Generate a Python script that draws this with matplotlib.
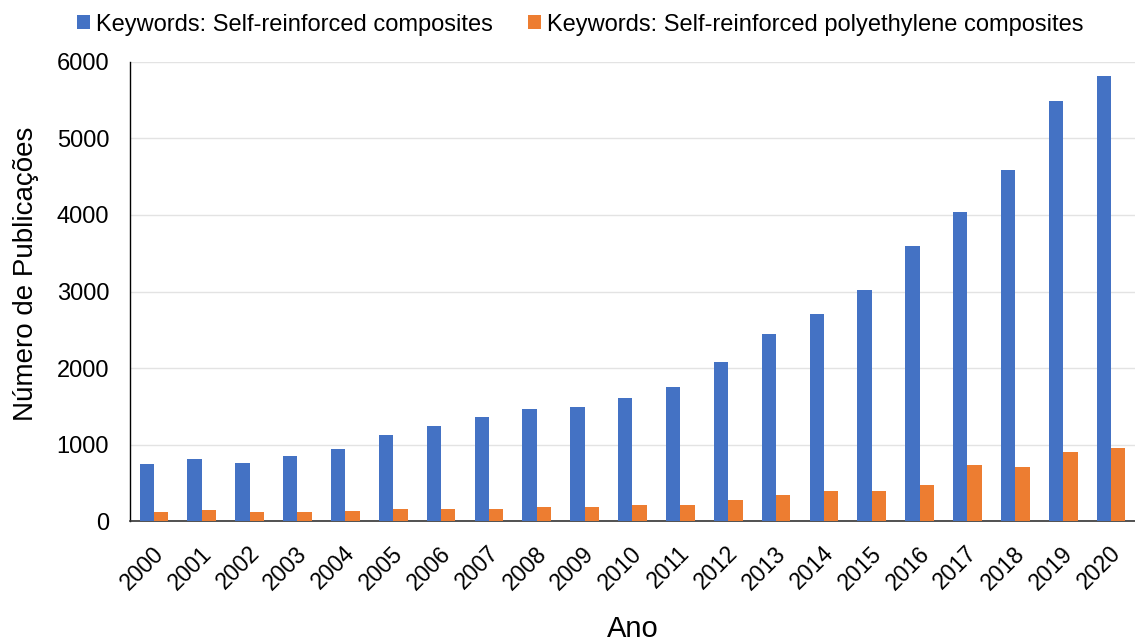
import matplotlib
matplotlib.use("Agg")
import matplotlib.pyplot as plt
import matplotlib.transforms as mtransforms
import numpy as np

years = [str(y) for y in range(2000, 2021)]
self_reinforced = [746, 816, 759, 846, 947, 1118, 1245, 1356, 1462, 1490, 1604,
                   1752, 2080, 2446, 2712, 3025, 3600, 4040, 4590, 5488, 5815]
self_reinforced_pe = [118, 149, 118, 118, 136, 162, 162, 162, 180, 180, 206,
                      206, 281, 342, 386, 386, 474, 728, 711, 908, 961]
yticks = [0, 1000, 2000, 3000, 4000, 5000, 6000]

plt.rcParams['font.family'] = ['Liberation Sans', 'DejaVu Sans']

fig = plt.figure(figsize=(11.35, 6.43), dpi=100)
ax = fig.add_axes([0.1145, 0.1897, 0.8855, 0.7139])

x = np.arange(len(years))
w = 0.3
ax.bar(x - w/2, self_reinforced, w, color='#4472C4',
       label='Keywords: Self-reinforced composites', zorder=3)
ax.bar(x + w/2, self_reinforced_pe, w, color='#ED7D31',
       label='Keywords: Self-reinforced polyethylene composites', zorder=3)

ax.set_xlim(-0.5, len(years) - 0.5)
ax.set_ylim(0, 6000)
ax.set_yticks(yticks)
ax.set_yticklabels([str(v) for v in yticks], fontsize=17)
ax.set_xticks(x)
ax.set_xticklabels(years, rotation=45, ha='right', rotation_mode='anchor', fontsize=16.5)
ax.tick_params(axis='y', length=0, pad=15)
ax.tick_params(axis='x', length=0, pad=15)
offset = mtransforms.ScaledTranslation(-2/100, 0, fig.dpi_scale_trans)
for lbl in ax.get_xticklabels():
    lbl.set_transform(lbl.get_transform() + offset)
ax.grid(axis='y', color='#e3e3e3', linewidth=1, zorder=0)
for s in ['top', 'right']:
    ax.spines[s].set_visible(False)
ax.spines['left'].set_color('black')
ax.spines['left'].set_linewidth(1)
ax.spines['bottom'].set_color('#333333')
ax.spines['bottom'].set_linewidth(1.2)

ax.set_ylabel('Número de Publicações', fontsize=20)
ax.yaxis.set_label_coords(-0.0905, 0.538)
ax.set_xlabel('Ano', fontsize=21)
ax.xaxis.set_label_coords(0.5, -0.205)

leg = fig.legend(loc='upper center', bbox_to_anchor=(0.511, 1.012), ncol=2,
                 frameon=False, fontsize=17, handlelength=0.55, handleheight=0.55,
                 handletextpad=0.25, columnspacing=1.5)

fig.savefig('out.png', dpi=100)
